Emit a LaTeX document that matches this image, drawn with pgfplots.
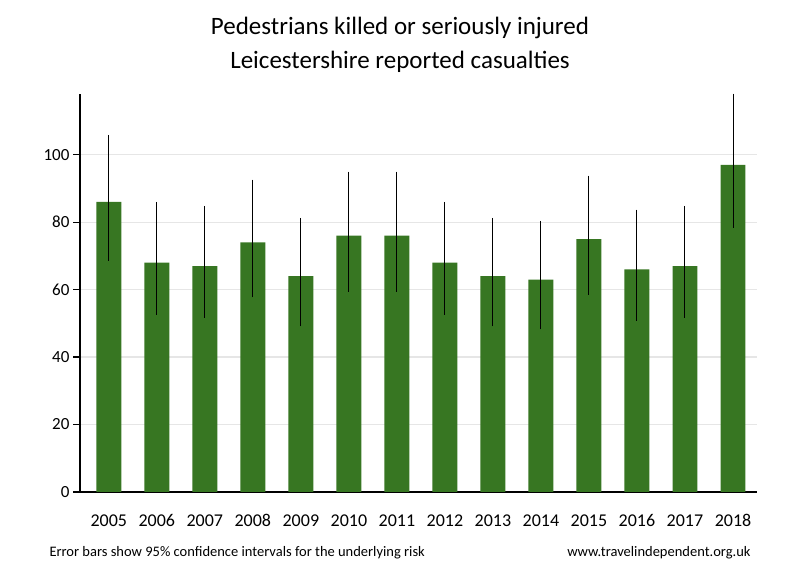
\documentclass[border=0pt]{standalone}
\usepackage{fontspec}
\setmainfont{Carlito}
\usepackage{pgfplots}
\pgfplotsset{compat=1.18}
\definecolor{barGreen}{RGB}{55,118,34}
\definecolor{gridGray}{RGB}{230,230,230}

\begin{document}
\begin{tikzpicture}[x=1pt,y=1pt]
  \path[use as bounding box] (0,0) rectangle (800,580);
  \begin{axis}[
      at={(80pt,88pt)}, anchor=south west,
      scale only axis, width=677pt, height=398pt,
      xmin=-0.6, xmax=13.5, ymin=0, ymax=118,
      ybar, bar width=0.52, bar shift=0pt,
      axis x line=bottom, axis y line=left,
      axis line style={-, line width=1.6pt},
      xtick={0,...,13},
      xticklabels={2005,2006,2007,2008,2009,2010,2011,2012,2013,2014,2015,2016,2017,2018},
      ytick={0,20,40,60,80,100},
      ymajorgrids, grid style={gridGray, line width=1.2pt},
      yticklabel style={font=\fontsize{17}{17}\selectfont},
      xticklabel style={font=\fontsize{18}{18}\selectfont, anchor=base, yshift=-28pt},
      /pgf/number format/assume math mode=true,
      x tick style={draw=none},
      y tick style={black, line width=1.2pt},
      major tick length=7pt, tick align=outside,
    ]
    \addplot[fill=barGreen, draw=none,
      error bars/.cd, y dir=both, y explicit, error mark=none,
      error bar style={black, line width=1pt}] coordinates {
      (0,86) += (0,19.9) -= (0,17.4)
      (1,68) += (0,18.0) -= (0,15.5)
      (2,67) += (0,17.8) -= (0,15.3)
      (3,74) += (0,18.6) -= (0,16.3)
      (4,64) += (0,17.3) -= (0,14.9)
      (5,76) += (0,19.0) -= (0,16.6)
      (6,76) += (0,19.0) -= (0,16.6)
      (7,68) += (0,18.0) -= (0,15.5)
      (8,64) += (0,17.3) -= (0,14.9)
      (9,63) += (0,17.4) -= (0,14.8)
      (10,75) += (0,18.8) -= (0,16.5)
      (11,66) += (0,17.7) -= (0,15.2)
      (12,67) += (0,17.8) -= (0,15.3)
      (13,97) += (0,21.1) -= (0,18.6)
    };
  \end{axis}
  \node[font=\fontsize{25}{25}\selectfont] at (400,552) {Pedestrians killed or seriously injured};
  \node[font=\fontsize{25}{25}\selectfont] at (400,518) {Leicestershire reported casualties};
  \node[font=\fontsize{14.5}{14.5}\selectfont, anchor=west] at (46,27) {Error bars show 95\% confidence intervals for the underlying risk};
  \node[font=\fontsize{14.5}{14.5}\selectfont, anchor=east] at (754,27) {www.travelindependent.org.uk};
\end{tikzpicture}
\end{document}
